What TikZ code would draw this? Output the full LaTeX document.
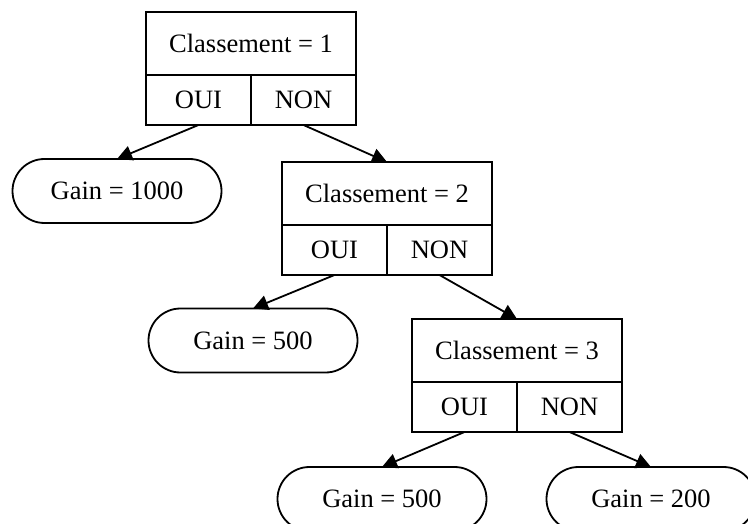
\documentclass[tikz,border=0pt]{standalone}
\usepackage{fontspec}
\setmainfont{Liberation Serif}
\usetikzlibrary{positioning,shapes.misc,arrows.meta}

\begin{document}
\begin{tikzpicture}[x=1pt,y=-1pt,line width=1.8pt,outer sep=0pt,
  font=\fontsize{26.5}{31}\selectfont,
  test/.style={draw,rectangle,inner sep=0pt,minimum width=210pt,minimum height=63pt},
  choix/.style={draw,rectangle,inner sep=0pt,minimum width=105pt,minimum height=50pt},
  gain/.style={draw,rounded rectangle,inner sep=0pt,minimum width=209pt,minimum height=64pt},
  fleche/.style={-{Triangle[length=15pt,width=15pt]}}]
\useasboundingbox (0,0) rectangle (748,524);

\node[test,anchor=north west] (c1) at (146,12) {Classement = 1};
\node[choix,below right=0pt and 0pt of c1.south west] (c1oui) {OUI};
\node[choix,below left=0pt and 0pt of c1.south east] (c1non) {NON};

\node[gain] (g1) at (117,191) {Gain = 1000};

\node[test,anchor=north west] (c2) at (282,162) {Classement = 2};
\node[choix,below right=0pt and 0pt of c2.south west] (c2oui) {OUI};
\node[choix,below left=0pt and 0pt of c2.south east] (c2non) {NON};

\node[gain] (g2) at (253,340.5) {Gain = 500};

\node[test,anchor=north west] (c3) at (412,319) {Classement = 3};
\node[choix,below right=0pt and 0pt of c3.south west] (c3oui) {OUI};
\node[choix,below left=0pt and 0pt of c3.south east] (c3non) {NON};

\node[gain] (g3) at (382,499) {Gain = 500};
\node[gain] (g4) at (651,499) {Gain = 200};

\draw[fleche] (c1oui.south) -- (g1.north);
\draw[fleche] (c1non.south) -- (c2.north);
\draw[fleche] (c2oui.south) -- (g2.north);
\draw[fleche] (c2non.south) -- (c3.north);
\draw[fleche] (c3oui.south) -- (g3.north);
\draw[fleche] (c3non.south) -- (g4.north);
\end{tikzpicture}
\end{document}
